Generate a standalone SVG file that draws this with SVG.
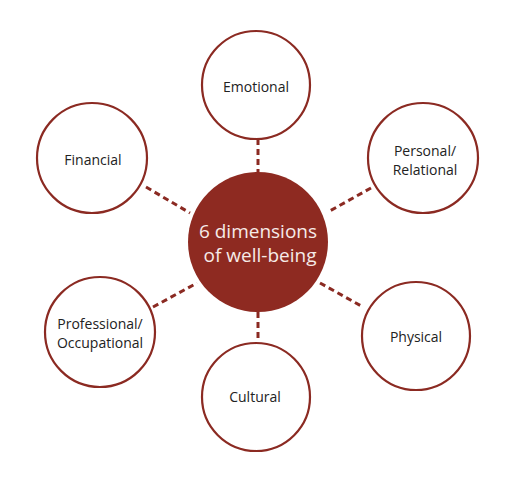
<svg xmlns="http://www.w3.org/2000/svg" width="518" height="481" viewBox="0 0 518 481">
<style>
.node{fill:#fff;stroke:#8b2a22;stroke-width:2.2}
.lbl{font-family:"Open Sans","DejaVu Sans",sans-serif;font-size:14px;fill:#222;text-anchor:middle}
.conn{stroke:#8b2a22;stroke-width:3;stroke-dasharray:6 4;fill:none}
.ctr{fill:#8e2a21}
.ctext{font-family:"Open Sans","DejaVu Sans",sans-serif;font-size:19px;fill:#f6ebe8;text-anchor:middle}
</style>
<rect width="518" height="481" fill="#fff"/>
<g id="connectors">
<line class="conn" x1="258" y1="139" x2="258" y2="172"/>
<line class="conn" x1="371" y1="188" x2="328" y2="212"/>
<line class="conn" x1="146" y1="187" x2="190" y2="213"/>
<line class="conn" x1="153" y1="307" x2="197" y2="283"/>
<line class="conn" x1="320" y1="283" x2="363" y2="307"/>
<line class="conn" x1="258" y1="312" x2="258" y2="342"/>
</g>
<g id="center">
<circle class="ctr" cx="258" cy="242" r="70"/>
<text class="ctext" x="258" y="238">6 dimensions</text>
<text class="ctext" x="260" y="262">of well-being</text>
</g>
<g id="emotional">
<circle class="node" cx="256" cy="85" r="54"/>
<text class="lbl" x="256" y="92">Emotional</text>
</g>
<g id="personal">
<circle class="node" cx="423" cy="158" r="55"/>
<text class="lbl" x="425" y="156">Personal/</text>
<text class="lbl" x="425" y="175">Relational</text>
</g>
<g id="financial">
<circle class="node" cx="92" cy="158" r="55"/>
<text class="lbl" x="93" y="165">Financial</text>
</g>
<g id="professional">
<circle class="node" cx="100" cy="332" r="55"/>
<text class="lbl" x="100" y="329">Professional/</text>
<text class="lbl" x="100" y="348">Occupational</text>
</g>
<g id="physical">
<circle class="node" cx="416" cy="336" r="54"/>
<text class="lbl" x="416" y="342">Physical</text>
</g>
<g id="cultural">
<circle class="node" cx="256" cy="397" r="54"/>
<text class="lbl" x="255" y="402">Cultural</text>
</g>
</svg>
